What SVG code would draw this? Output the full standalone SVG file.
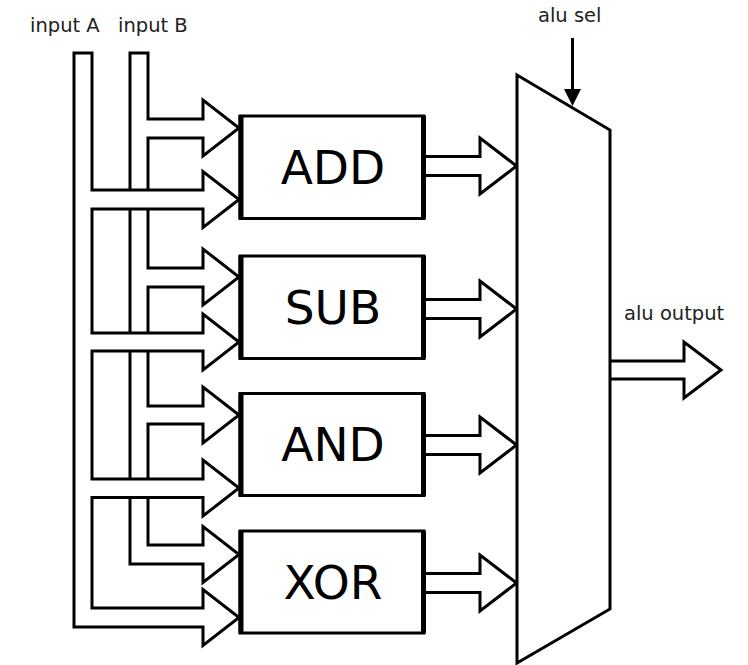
<svg xmlns="http://www.w3.org/2000/svg" width="748" height="665" viewBox="0 0 748 665">
<style>
  .ln { fill: #fff; stroke: #000; stroke-width: 3; stroke-linejoin: miter; stroke-miterlimit: 10; }
  .box { fill: #fff; stroke: #000; stroke-width: 3; }
  .edge { stroke: #000; stroke-width: 5; fill: none; }
  .lbl { font-family: "DejaVu Sans", "Liberation Sans", sans-serif; font-size: 19.5px; fill: #222; }
  .big { font-family: "DejaVu Sans", "Liberation Sans", sans-serif; font-size: 47px; fill: #000; text-anchor: middle; }
</style>
<rect width="748" height="665" fill="#fff"/>
<g id="labels">
  <text class="lbl" x="30" y="32">input A</text>
  <text class="lbl" x="118" y="32">input B</text>
  <text class="lbl" x="538" y="22">alu sel</text>
  <text class="lbl" x="624" y="320">alu output</text>
</g>
<g id="connectors">
  <!-- input B bus -->
  <path class="ln" d="M130,53 V564 H203 V582.5 L239,554.5 L203,526.5 V545 H148 V424 H203 V443 L239,415 L203,387 V406 H148 V287 H203 V305 L239,277 L203,249 V268 H148 V138 H203 V156 L239,128 L203,100 V119 H148 V53 Z"/>
  <!-- input A bus -->
  <path class="ln" d="M74,53 V627 H203 V645.5 L239,617.5 L203,589.5 V608 H92 V497.5 H203 V516 L239,488 L203,460 V479 H92 V351 H203 V370 L239,342 L203,314 V333 H92 V209 H203 V227.5 L239,199.5 L203,171.5 V190 H92 V53 Z"/>
  <!-- box outputs -->
  <path class="ln" d="M424,156.5 H480 V138 L516.5,166 L480,194 V175.5 H424"/>
  <path class="ln" d="M424,299.5 H480 V281 L516.5,309 L480,337 V318.5 H424"/>
  <path class="ln" d="M424,435.5 H480 V417 L516.5,445 L480,473 V454.5 H424"/>
  <path class="ln" d="M424,573.5 H480 V555 L516.5,583 L480,611 V592.5 H424"/>
  <!-- mux output -->
  <path class="ln" d="M610,361 H684 V342 L721,370 L684,398 V379 H610"/>
  <!-- alu sel -->
  <line x1="572.5" y1="38" x2="572.5" y2="92" stroke="#000" stroke-width="3"/>
  <polygon points="564,89 581,89 572.5,106" fill="#000"/>
</g>
<g id="mux">
  <polygon class="ln" points="517,75 610,130 610,609 517,663"/>
</g>
<g id="add">
  <rect class="box" x="240" y="116" width="184" height="102.5"/>
  <path class="edge" d="M241,116 V218.5 M423.5,116 V218.5"/>
  <text class="big" x="333" y="183.5">ADD</text>
</g>
<g id="sub">
  <rect class="box" x="240" y="256" width="184" height="102.5"/>
  <path class="edge" d="M241,256 V358.5 M423.5,256 V358.5"/>
  <text class="big" x="333" y="324">SUB</text>
</g>
<g id="and">
  <rect class="box" x="240" y="393.5" width="184" height="102"/>
  <path class="edge" d="M241,393.5 V495.5 M423.5,393.5 V495.5"/>
  <text class="big" x="333" y="461">AND</text>
</g>
<g id="xor">
  <rect class="box" x="240" y="531" width="184" height="102"/>
  <path class="edge" d="M241,531 V633 M423.5,531 V633"/>
  <text class="big" x="333" y="599">XOR</text>
</g>
</svg>
